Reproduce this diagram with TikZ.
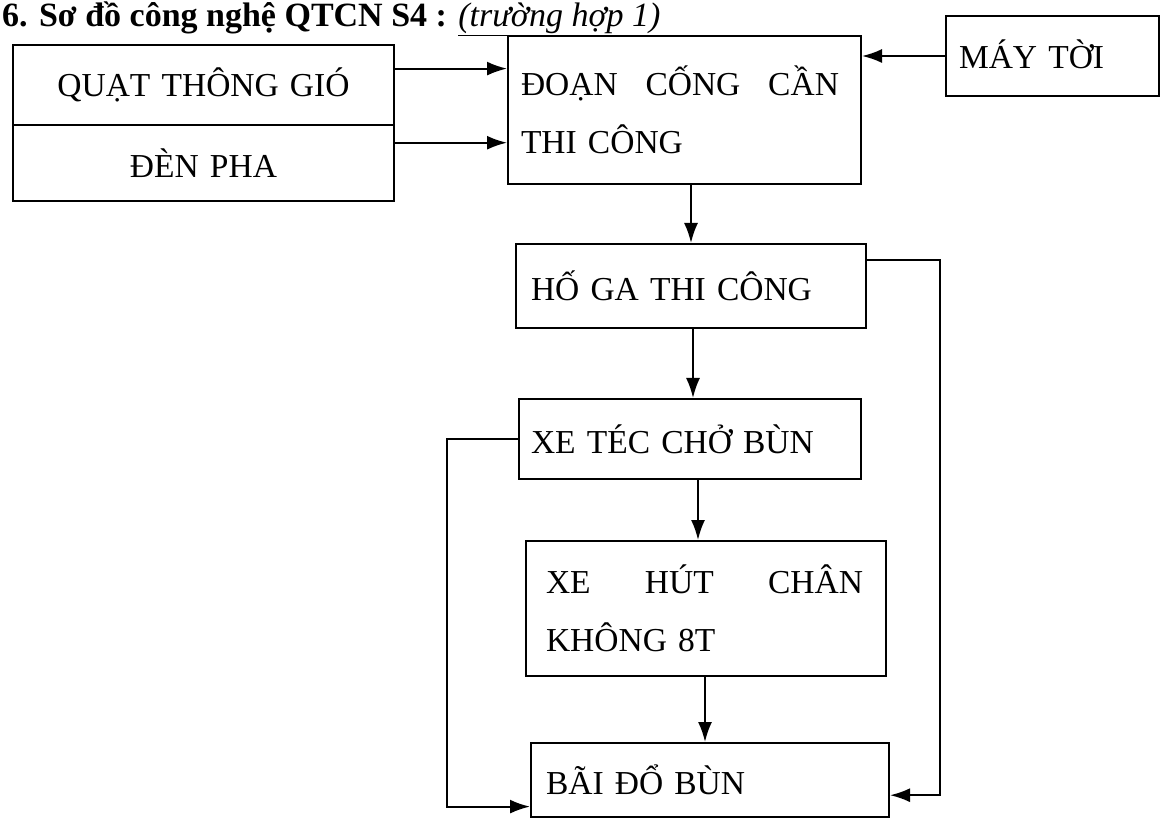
\documentclass[tikz,border=0pt]{standalone}
\usepackage{fontspec}
\setmainfont{Liberation Serif}
\usetikzlibrary{calc,arrows.meta}
\begin{document}
\begin{tikzpicture}[x=1pt,y=-1pt,
  box/.style={draw,line width=2pt,anchor=north west,align=left,inner ysep=0pt,
    font=\fontsize{33.5}{58}\selectfont},
  arr/.style={line width=2pt,-{Latex[length=20pt,width=14pt]}},
  ln/.style={line width=2pt}]
\useasboundingbox (0,0) rectangle (1160,818);
\fill[white] (0,0) rectangle (1160,818);
\node[anchor=base west,inner sep=0pt,font=\fontsize{34}{40}\selectfont\bfseries] (title) at (2,27)
  {6. Sơ đồ công nghệ QTCN S4 : \mdseries\itshape\underline{(trường hợp 1)}};
% left double box
\node[box,minimum width=381pt,minimum height=80pt,align=center,text width=355pt] (quat) at (12,44) {QUẠT THÔNG GIÓ};
\node[box,minimum width=381pt,minimum height=76pt,align=center,text width=355pt] (den) at (12,124) {ĐÈN PHA};
% main boxes
\node[box,minimum width=353pt,minimum height=148pt,inner xsep=13pt,text width=327pt] (doan) at (507,35)
  {\makebox[318pt][l]{ĐOẠN\hfill CỐNG\hfill CẦN}\\THI CÔNG};
\node[box,minimum width=213pt,minimum height=80pt,inner xsep=13pt,text width=187pt] (may) at (945,15) {\raisebox{4pt}{MÁY TỜI}};
\node[box,minimum width=350pt,minimum height=84pt,inner xsep=15pt,text width=320pt] (hoga) at (515,243) {HỐ GA THI CÔNG};
\node[box,minimum width=342pt,minimum height=80pt,inner xsep=12pt,text width=318pt] (xetec) at (518,398) {XE TÉC CHỞ BÙN};
\node[box,minimum width=360pt,minimum height=135pt,inner xsep=20pt,text width=320pt] (xehut) at (525,540)
  {\makebox[317pt][l]{XE\hfill HÚT\hfill CHÂN}\\KHÔNG 8T};
\node[box,minimum width=358pt,minimum height=74pt,inner xsep=15pt,text width=328pt] (bai) at (530,742) {\raisebox{-10pt}{BÃI ĐỔ BÙN}};
% connectors
\draw[arr] ($(quat.north east)!0.3!(quat.south east)$) coordinate (q1) -- (q1 -| doan.west);
\draw[arr] ($(den.north east)!0.24!(den.south east)$) coordinate (d1) -- (d1 -| doan.west);
\draw[arr] ($(may.north west)!0.5!(may.south west)$) coordinate (m1) -- (m1 -| doan.east);
\draw[arr] (doan.south -| hoga.north) -- (hoga.north);
\draw[arr] (hoga.south -| 693,0) -- (xetec.north -| 693,0);
\draw[arr] (xetec.south -| 698,0) -- (xehut.north -| 698,0);
\draw[arr] (xehut.south -| 705,0) -- (bai.north -| 705,0);
\coordinate (r1) at ($(hoga.north east)!0.2!(hoga.south east)$);
\coordinate (r2) at (940,0);
\coordinate (r3) at ($(bai.north east)!0.7!(bai.south east)$);
\draw[arr] (r1) -- (r1 -| r2) -- (r3 -| r2) -- (r3);
\coordinate (l1) at (xetec.west);
\coordinate (l2) at (447,0);
\coordinate (l3) at ($(bai.north west)!0.85!(bai.south west)$);
\draw[arr] (l1) -- (l1 -| l2) -- (l3 -| l2) -- (l3);
\end{tikzpicture}
\end{document}
